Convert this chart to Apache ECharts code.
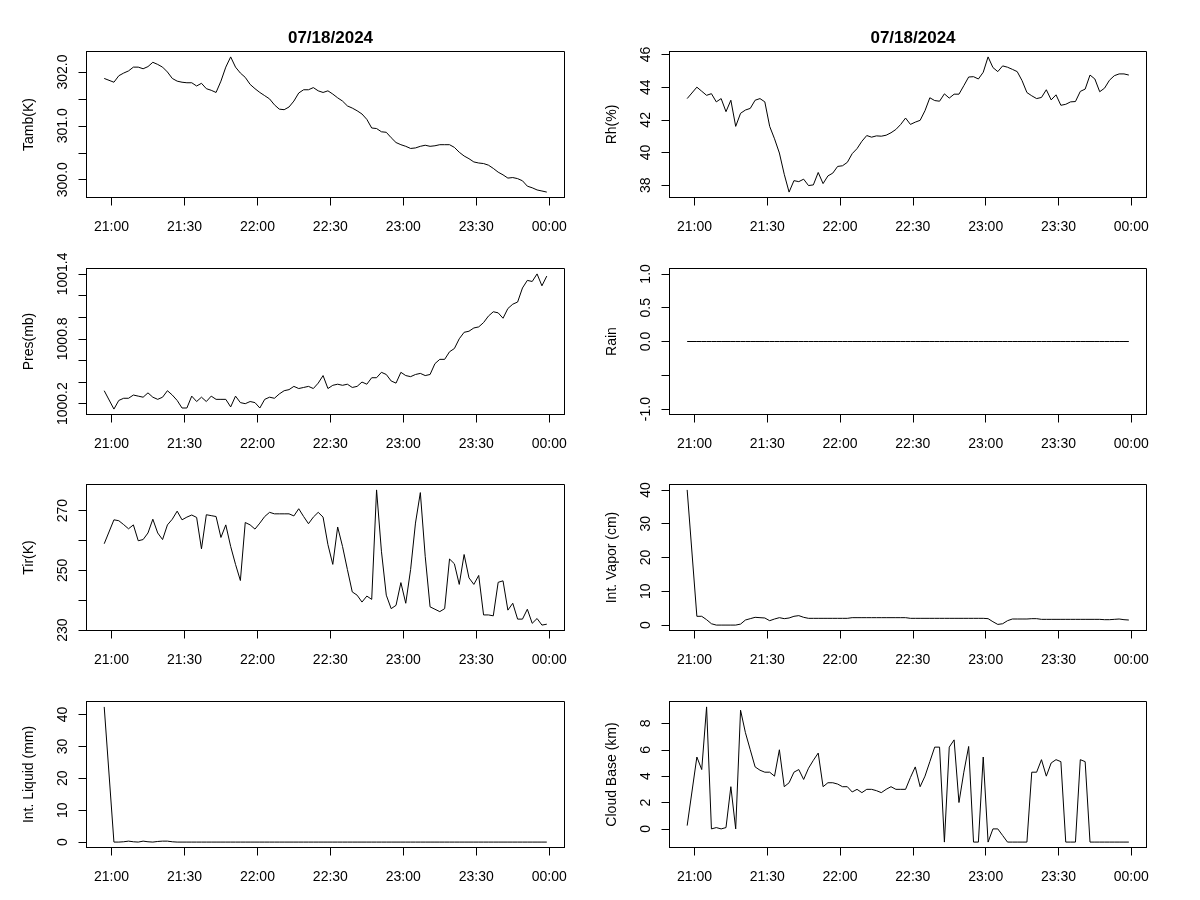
<!DOCTYPE html>
<html><head><meta charset="utf-8">
<script src="https://cdn.jsdelivr.net/npm/echarts@6/dist/echarts.min.js"></script>
<style>html,body{margin:0;padding:0;background:#fff}#chart{width:1200px;height:900px}</style>
</head><body><div id="chart"></div>
<script>
const chartTitle = '07/18/2024';

const times = ['20:57',
 '21:01','21:03','21:05','21:07','21:09','21:11','21:13','21:15','21:17','21:19',
 '21:21','21:23','21:25','21:27','21:29','21:31','21:33','21:35','21:37','21:39',
 '21:41','21:43','21:45','21:47','21:49','21:51','21:53','21:55','21:57','21:59',
 '22:01','22:03','22:05','22:07','22:09','22:11','22:13','22:15','22:17','22:19',
 '22:21','22:23','22:25','22:27','22:29','22:31','22:33','22:35','22:37','22:39',
 '22:41','22:43','22:45','22:47','22:49','22:51','22:53','22:55','22:57','22:59',
 '23:01','23:03','23:05','23:07','23:09','23:11','23:13','23:15','23:17','23:19',
 '23:21','23:23','23:25','23:27','23:29','23:31','23:33','23:35','23:37','23:39',
 '23:41','23:43','23:45','23:47','23:49','23:51','23:53','23:55','23:57','23:59'];

const tamb = [301.88,301.81,301.93,301.98,302.02,302.09,302.09,302.06,302.10,302.18,
 302.14,302.09,302.00,301.88,301.83,301.81,301.80,301.80,301.74,301.79,
 301.69,301.66,301.62,301.83,302.09,302.28,302.09,301.98,301.90,301.77,
 301.69,301.62,301.56,301.50,301.39,301.31,301.30,301.35,301.46,301.61,
 301.67,301.67,301.71,301.65,301.62,301.65,301.59,301.52,301.46,301.37,
 301.33,301.28,301.22,301.12,300.96,300.95,300.89,300.88,300.78,300.69,
 300.65,300.62,300.58,300.59,300.62,300.64,300.62,300.63,300.65,300.65,
 300.65,300.60,300.51,300.44,300.39,300.33,300.31,300.30,300.27,300.21,
 300.14,300.09,300.03,300.04,300.02,299.98,299.88,299.85,299.81,299.79,
 299.77];

const rh = [43.30,44.00,43.75,43.50,43.60,43.10,43.30,42.50,43.20,41.60,
 42.40,42.60,42.70,43.20,43.30,43.10,41.60,40.84,39.97,38.67,
 37.58,38.28,38.22,38.37,37.98,38.02,38.78,38.10,38.57,38.74,
 39.15,39.19,39.40,39.93,40.24,40.69,41.04,40.94,41.02,41.00,
 41.06,41.21,41.41,41.72,42.11,41.72,41.86,41.97,42.56,43.35,
 43.18,43.14,43.59,43.33,43.57,43.57,44.09,44.62,44.64,44.50,
 44.91,45.85,45.20,44.95,45.30,45.22,45.09,44.95,44.40,43.67,
 43.47,43.30,43.37,43.84,43.22,43.53,42.89,42.95,43.10,43.12,
 43.74,43.88,44.74,44.50,43.72,43.94,44.42,44.70,44.81,44.81,
 44.74];

const pres = [1000.32,1000.15,1000.23,1000.25,1000.25,1000.28,1000.27,1000.26,1000.30,1000.26,
 1000.24,1000.26,1000.32,1000.28,1000.23,1000.16,1000.16,1000.27,1000.22,1000.26,
 1000.22,1000.27,1000.24,1000.24,1000.24,1000.17,1000.27,1000.21,1000.20,1000.22,
 1000.21,1000.16,1000.24,1000.26,1000.25,1000.29,1000.32,1000.33,1000.36,1000.34,
 1000.35,1000.36,1000.34,1000.39,1000.46,1000.34,1000.37,1000.38,1000.37,1000.38,
 1000.35,1000.36,1000.40,1000.38,1000.44,1000.44,1000.49,1000.47,1000.41,1000.39,
 1000.49,1000.46,1000.45,1000.47,1000.48,1000.46,1000.47,1000.57,1000.61,1000.61,
 1000.68,1000.71,1000.80,1000.86,1000.87,1000.90,1000.91,1000.95,1001.01,1001.05,
 1001.04,1000.99,1001.08,1001.12,1001.14,1001.27,1001.34,1001.33,1001.40,1001.29,
 1001.38];

const rain = [0,
 0,0,0,0,0,0,0,0,0,0, 0,0,0,0,0,0,0,0,0,0, 0,0,0,0,0,0,0,0,0,0,
 0,0,0,0,0,0,0,0,0,0, 0,0,0,0,0,0,0,0,0,0, 0,0,0,0,0,0,0,0,0,0,
 0,0,0,0,0,0,0,0,0,0, 0,0,0,0,0,0,0,0,0,0, 0,0,0,0,0,0,0,0,0,0];

const tir = [258.9,266.9,266.6,265.3,263.9,265.2,259.9,260.3,262.5,267.1,
 262.5,260.3,265.2,267.1,269.8,266.9,267.8,268.5,267.7,257.2,
 268.6,268.3,268.0,261.0,265.2,258.0,252.0,246.6,266.0,265.2,
 263.8,265.8,268.0,269.4,268.9,268.9,268.9,268.9,268.2,270.6,
 268.0,265.6,267.8,269.4,267.8,258.6,252.0,264.5,258.0,250.3,
 242.8,241.7,239.4,241.4,240.3,276.9,256.4,241.7,237.2,238.3,
 245.9,239.0,250.3,265.8,276.0,254.7,237.8,237.0,236.2,237.2,
 253.8,252.2,245.3,255.3,247.5,245.3,248.3,235.1,235.1,234.8,
 246.0,246.5,236.7,239.0,233.7,233.7,237.0,232.3,233.9,231.7,
 232.0];

const vapor = [40.0,2.6,2.6,1.6,0.4,0.0,0.0,0.0,0.0,0.0,
 0.3,1.5,1.9,2.3,2.2,2.1,1.3,1.8,2.2,1.9,
 2.1,2.6,2.8,2.3,2.0,2.0,2.0,2.0,2.0,2.0,
 2.0,2.0,2.0,2.2,2.2,2.2,2.2,2.2,2.2,2.2,
 2.2,2.2,2.2,2.2,2.2,2.0,2.0,2.0,2.0,2.0,
 2.0,2.0,2.0,2.0,2.0,2.0,2.0,2.0,2.0,2.0,
 2.0,1.9,1.0,0.2,0.4,1.3,1.8,1.8,1.8,1.8,
 1.9,1.9,1.7,1.7,1.7,1.7,1.7,1.7,1.7,1.7,
 1.7,1.7,1.7,1.7,1.7,1.6,1.6,1.7,1.8,1.6,
 1.5];

const liquid = [42.4,0,0,0.1,0.3,0.1,0,0.3,0.1,0,
 0.2,0.3,0.3,0.1,0,0,0,0,0,0,
 0,0,0,0,0,0,0,0,0,0, 0,0,0,0,0,0,0,0,0,0,
 0,0,0,0,0,0,0,0,0,0, 0,0,0,0,0,0,0,0,0,0,
 0,0,0,0,0,0,0,0,0,0, 0,0,0,0,0,0,0,0,0,0,
 0,0,0,0,0,0,0,0,0,0,
 0];

const cloudBase = [0.25,5.45,4.5,9.25,0,0.1,0,0.1,3.2,0,
 9.0,7.3,6.0,4.7,4.45,4.3,4.3,4.0,6.0,3.2,
 3.5,4.3,4.5,3.75,4.6,5.2,5.75,3.2,3.5,3.5,
 3.4,3.2,3.2,2.8,3.0,2.75,3.0,3.0,2.9,2.75,
 3.0,3.2,3.0,3.0,3.0,3.9,4.7,3.2,4.0,5.1,
 6.2,6.2,-1,6.2,6.75,2.0,4.3,6.25,-1,-1,
 5.45,-1,0,0,-0.5,-1,-1,-1,-1,-1,
 4.3,4.3,5.25,4.0,5.0,5.25,5.1,-1,-1,-1,
 5.25,5.1,-1,-1,-1,-1,-1,-1,-1,-1,
 -1];

const xTickLabels = ['21:00','21:30','22:00','22:30','23:00','23:30','00:00'];

const tambTicks = [300, 300.5, 301, 301.5, 302];   const tambLabels = [300, 301, 302];
const rhTicks = [38, 40, 42, 44, 46];              const rhLabels = [38, 40, 42, 44, 46];
const presTicks = [1000.2, 1000.4, 1000.6, 1000.8, 1001.0, 1001.2, 1001.4];
const presLabels = [1000.2, 1000.8, 1001.4];
const rainTicks = [-1, -0.5, 0, 0.5, 1];           const rainLabels = [-1, 0, 0.5, 1];
const tirTicks = [230, 240, 250, 260, 270];        const tirLabels = [230, 250, 270];
const vaporTicks = [0, 10, 20, 30, 40];            const vaporLabels = [0, 10, 20, 30, 40];
const liquidTicks = [0, 10, 20, 30, 40];           const liquidLabels = [0, 10, 20, 30, 40];
const cloudTicks = [0, 2, 4, 6, 8];                const cloudLabels = [0, 2, 4, 6, 8];

function toMin(s) { const p = s.split(':').map(Number); return (p[0] < 12 ? p[0] + 24 : p[0]) * 60 + p[1] - 21 * 60; }
const xs = times.map(toMin);
const xTicks = xTickLabels.map(toMin);
function rRange(lo, hi) { if (lo === hi) { lo -= 1; hi += 1; } const d = (hi - lo) * 0.04; return [lo - d, hi + d]; }
const xr = rRange(Math.min.apply(null, xs), Math.max.apply(null, xs));

const FONT = 'Liberation Sans, Arial, sans-serif';
const panels = [
  { name: 'Tamb(K)', data: tamb, ticks: tambTicks, labels: tambLabels, dec: 1, col: 0, row: 0 },
  { name: 'Rh(%)', data: rh, ticks: rhTicks, labels: rhLabels, dec: 0, col: 1, row: 0 },
  { name: 'Pres(mb)', data: pres, ticks: presTicks, labels: presLabels, dec: 1, col: 0, row: 1 },
  { name: 'Rain', data: rain, ticks: rainTicks, labels: rainLabels, dec: 1, col: 1, row: 1 },
  { name: 'Tir(K)', data: tir, ticks: tirTicks, labels: tirLabels, dec: 0, col: 0, row: 2 },
  { name: 'Int. Vapor (cm)', data: vapor, ticks: vaporTicks, labels: vaporLabels, dec: 0, col: 1, row: 2 },
  { name: 'Int. Liquid (mm)', data: liquid, ticks: liquidTicks, labels: liquidLabels, dec: 0, col: 0, row: 3 },
  { name: 'Cloud Base (km)', data: cloudBase, ticks: cloudTicks, labels: cloudLabels, dec: 0, col: 1, row: 3 }
];
const colLeft = [86.5, 669.5], colWidth = [478, 477];
const rowTop = [51.5, 268.5, 484.5, 701.5], rowHeight = 146;

const grid = [], xAxis = [], yAxis = [], series = [];
panels.forEach((p, i) => {
  grid.push({ left: colLeft[p.col], top: rowTop[p.row], width: colWidth[p.col], height: rowHeight,
    show: true, borderColor: '#000', borderWidth: 1, backgroundColor: 'transparent',
    containLabel: false, outerBoundsMode: 'none' });
  xAxis.push({ gridIndex: i, type: 'value', position: 'bottom', min: xr[0], max: xr[1],
    axisLine: { show: true, onZero: false, lineStyle: { color: '#000', width: 1 } },
    splitLine: { show: false },
    axisTick: { show: true, inside: false, length: 8, customValues: xTicks, lineStyle: { color: '#000', width: 1 } },
    axisLabel: { show: true, customValues: xTicks, margin: 23, color: '#000', fontSize: 14, fontFamily: FONT,
      formatter: v => { const k = xTicks.indexOf(Math.round(v)); return k >= 0 ? xTickLabels[k] : ''; } }
  });
  const yr = rRange(Math.min.apply(null, p.data), Math.max.apply(null, p.data));
  yAxis.push({ gridIndex: i, type: 'value', position: 'left', min: yr[0], max: yr[1],
    name: p.name, nameLocation: 'middle', nameGap: 50,
    nameTextStyle: { color: '#000', fontSize: 14, fontFamily: FONT },
    axisLine: { show: true, onZero: false, lineStyle: { color: '#000', width: 1 } },
    splitLine: { show: false },
    axisTick: { show: true, inside: false, length: 8, customValues: p.ticks, lineStyle: { color: '#000', width: 1 } },
    axisLabel: { show: true, customValues: p.labels, rotate: 90, margin: 16, color: '#000', fontSize: 14, fontFamily: FONT,
      formatter: v => Number(v).toFixed(p.dec) }
  });
  series.push({ type: 'line', xAxisIndex: i, yAxisIndex: i, symbol: 'none', showSymbol: false,
    silent: true, animation: false,
    lineStyle: { color: '#000', width: 1 },
    data: xs.map((x, j) => [x, p.data[j]]) });
});

const chart = echarts.init(document.getElementById('chart'), null, { renderer: 'canvas' });
chart.setOption({
  backgroundColor: '#fff',
  animation: false,
  title: [0, 1].map(c => ({ text: chartTitle, left: colLeft[c] + colWidth[c] / 2, top: 25, textAlign: 'center',
    textStyle: { color: '#000', fontSize: 17, fontWeight: 'bold', fontFamily: FONT } })),
  grid: grid, xAxis: xAxis, yAxis: yAxis, series: series
});
</script></body></html>
